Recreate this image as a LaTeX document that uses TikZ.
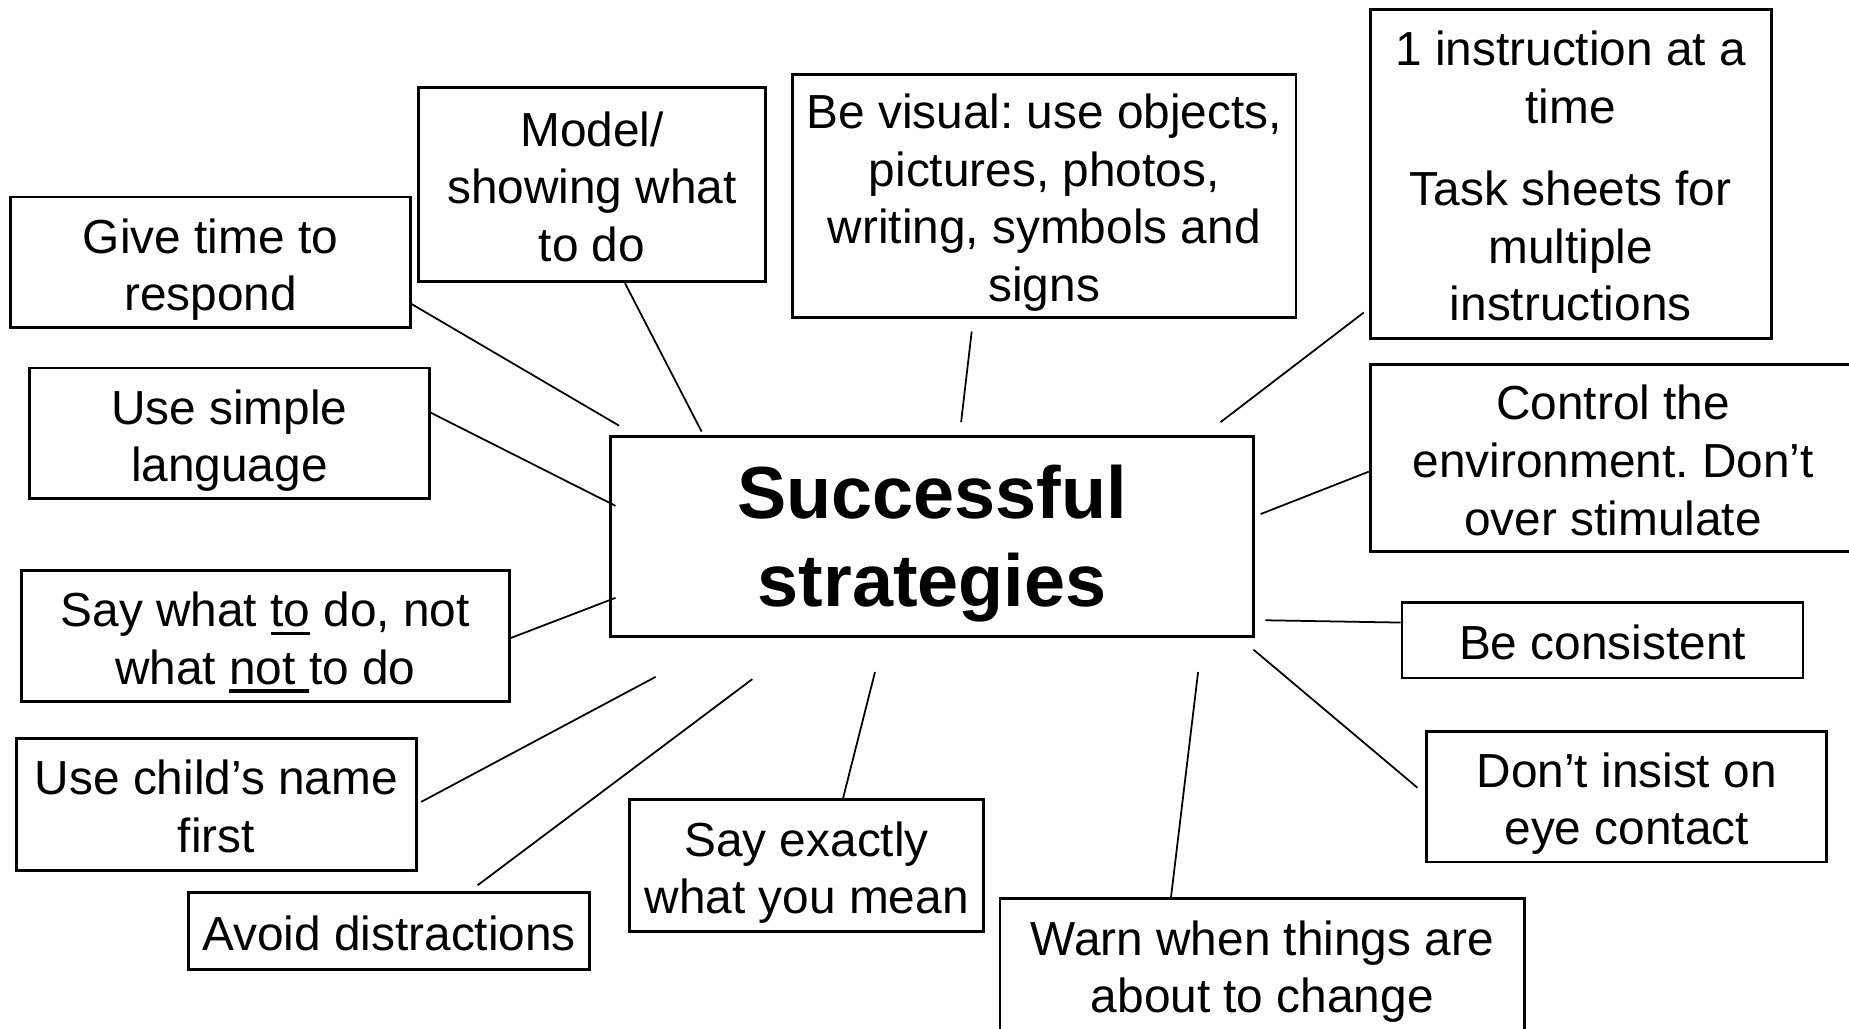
\documentclass[tikz,border=0pt]{standalone}
\usepackage{fontspec}
\setmainfont{Liberation Sans}
\frenchspacing
\newcommand{\undr}[1]{\setbox0\hbox{#1}\rlap{\rule[-2.4pt]{\wd0}{1pt}}\box0\relax}
\begin{document}
\begin{tikzpicture}[
  box/.style={shape=rectangle, draw=black, line width=0.8pt, align=center, inner sep=0pt, font=\fontsize{13.6}{16.4}\selectfont, text depth=2.9pt},
  lines/.style={text height={14pt+(#1-1)*16.4pt}},
  link/.style={-, draw=black, line width=0.5pt}]
\clip (0,0) rectangle (18.49,10.29);
\node[box, font=\bfseries\fontsize{21}{25}\selectfont, text height=44.5pt, text depth=4.45pt, minimum width=6.427cm, minimum height=2.005cm] (hub) at (9.322,4.925) {Successful\\strategies};
\node[box, lines=2, minimum width=3.998cm, minimum height=1.309cm] (give) at (2.105,7.666) {Give time to\\respond};
\node[box, lines=3, minimum width=3.467cm, minimum height=1.946cm] (model) at (5.920,8.445) {Model/\\showing what\\to do};
\node[box, lines=4, minimum width=5.035cm, minimum height=2.429cm] (visual) at (10.442,8.333) {Be visual: use objects,\\pictures, photos,\\writing, symbols and\\signs};
\node[box, text height=86.6pt, minimum width=4.009cm, minimum height=3.290cm] (instr) at (15.707,8.551) {1 instruction at a\\time\\[7pt]Task sheets for\\multiple\\instructions};
\node[box, lines=3, minimum width=4.858cm, minimum height=1.875cm] (control) at (16.131,5.709) {Control the\\environment. Don’t\\over stimulate};
\node[box, lines=1, minimum width=4.009cm, minimum height=0.755cm] (consist) at (16.025,3.887) {Be consistent};
\node[box, lines=2, minimum width=3.998cm, minimum height=1.309cm] (eye) at (16.267,2.324) {Don’t insist on\\eye contact};
\node[box, lines=2, minimum width=5.247cm, minimum height=1.320cm] (warn) at (12.623,0.644) {Warn when things are\\about to change};
\node[box, lines=2, minimum width=3.538cm, minimum height=1.321cm] (exact) at (8.066,1.635) {Say exactly\\what you mean};
\node[box, lines=1, minimum width=4.009cm, minimum height=0.766cm] (avoid) at (3.891,0.980) {Avoid distractions};
\node[box, lines=2, minimum width=3.998cm, minimum height=1.321cm] (name) at (2.164,2.248) {Use child’s name\\first};
\node[box, lines=2, minimum width=4.882cm, minimum height=1.309cm] (saywhat) at (2.653,3.928) {Say what \undr{to} do, not\\what \undr{not\ }to do};
\node[box, lines=2, minimum width=3.998cm, minimum height=1.309cm] (simple) at (2.294,5.956) {Use simple\\language};
\coordinate (g1) at (6.191,6.033);
\coordinate (m1) at (7.016,5.974);
\coordinate (v1) at (9.611,6.068);
\coordinate (i1) at (12.205,6.068);
\coordinate (c1) at (12.606,5.149);
\coordinate (b1) at (12.653,4.087);
\coordinate (e1) at (12.535,3.793);
\coordinate (w1) at (11.981,3.569);
\coordinate (x1) at (8.750,3.569);
\coordinate (a1) at (7.523,3.498);
\coordinate (n1) at (6.556,3.521);
\coordinate (s1) at (6.155,4.311);
\coordinate (l1) at (6.155,5.231);
\path [link] ([yshift=-0.418cm]give.east) edge (g1);
\path [link] ([xshift=0.33cm]model.south) edge (m1);
\path [link] ([xshift=-0.725cm,yshift=-0.13cm]visual.south) edge (v1);
\path [link] ([xshift=-0.05cm,yshift=-1.386cm]instr.west) edge (i1);
\path [link] ([yshift=-0.136cm]control.west) edge (c1);
\path [link] ([yshift=0.177cm]consist.west) edge (b1);
\path [link] ([xshift=-0.08cm,yshift=0.089cm]eye.west) edge (e1);
\path [link] ([xshift=-0.913cm]warn.north) edge (w1);
\path [link] ([xshift=0.365cm]exact.north) edge (x1);
\path [link] ([xshift=0.885cm,yshift=0.06cm]avoid.north) edge (a1);
\path [link] ([xshift=0.035cm,yshift=0.023cm]name.east) edge (n1);
\path [link] ([yshift=-0.018cm]saywhat.east) edge (s1);
\path [link] ([yshift=0.207cm]simple.east) edge (l1);
\end{tikzpicture}
\end{document}
